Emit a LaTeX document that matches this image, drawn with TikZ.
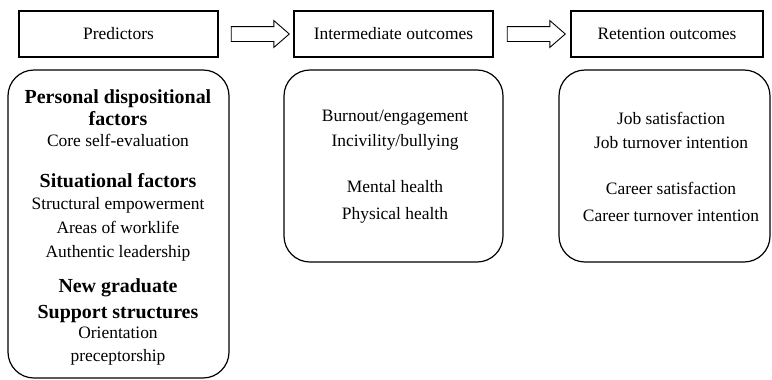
\documentclass[tikz,border=0pt]{standalone}
\usepackage{fontspec}
\setmainfont{Liberation Serif}
\usetikzlibrary{shapes.arrows, calc}

\tikzset{
  stagebox/.style={draw, line width=1.6bp, minimum width=199bp, minimum height=46bp,
    inner sep=0pt, font=\fontsize{17.5}{21}\selectfont},
  groupbox/.style={draw, line width=1.2bp, rounded corners=26bp, inner sep=0pt},
  hollowarrow/.style={single arrow, draw, line width=0.9bp, minimum height=58bp,
    minimum width=26bp, single arrow head extend=6bp, single arrow tip angle=82,
    inner xsep=0pt, inner ysep=7bp},
  itemtext/.style={align=center, inner sep=0pt},
  headtext/.style={align=center, inner sep=0pt, font=\bfseries\fontsize{20}{22}\selectfont},
}

\begin{document}
\begin{tikzpicture}[x=1bp, y=-1bp]
  \useasboundingbox (0,0) rectangle (772,379);
  % Stage boxes
  \node[stagebox] (predictors) at (118.5,34) {Predictors};
  \node[stagebox] (intermediate) at (393.5,34) {Intermediate outcomes};
  \node[stagebox, minimum width=192bp] (retention) at (667,34) {Retention outcomes};
  % Hollow arrows between stages
  \node[hollowarrow] (arrowpi) at ($(predictors.east)!0.5!(intermediate.west)$) {};
  \node[hollowarrow] (arrowir) at ($(intermediate.east)!0.5!(retention.west)$) {};
  % Rounded group boxes
  \node[groupbox, minimum width=221bp, minimum height=308bp] (predbox) at (118.5,224) {};
  \node[groupbox, minimum width=219bp, minimum height=192bp] (interbox) at (393.5,166) {};
  \node[groupbox, minimum width=211bp, minimum height=192bp] (retbox) at (664.5,166) {};
  % Predictors
  \node[headtext] (personal) at (118,108) {Personal dispositional\\factors};
  \node[itemtext, font=\fontsize{17.5}{24}\selectfont] (core) at (118,140) {Core self-evaluation};
  \node[headtext] (situational) at (118,181) {Situational factors};
  \node[itemtext, font=\fontsize{17.5}{24}\selectfont] (sitlist) at (118,229)
    {Structural empowerment\\Areas of worklife\\Authentic leadership};
  \node[headtext, font=\bfseries\fontsize{20}{26}\selectfont] (newgrad) at (118,301)
    {New graduate\\Support structures};
  \node[itemtext, font=\fontsize{17.5}{23}\selectfont] (supportlist) at (118,346.5)
    {Orientation\\preceptorship};
  % Intermediate outcomes
  \node[itemtext, font=\fontsize{17.5}{25}\selectfont] (burnout) at (395,130.5)
    {Burnout/engagement\\Incivility/bullying};
  \node[itemtext, font=\fontsize{17.5}{27}\selectfont] (health) at (395,201.5)
    {Mental health\\Physical health};
  % Retention outcomes
  \node[itemtext, font=\fontsize{17.5}{24}\selectfont] (jobout) at (671,130)
    {Job satisfaction\\Job turnover intention};
  \node[itemtext, font=\fontsize{17.5}{27}\selectfont] (careerout) at (671,201.5)
    {Career satisfaction\\Career turnover intention};
\end{tikzpicture}
\end{document}
